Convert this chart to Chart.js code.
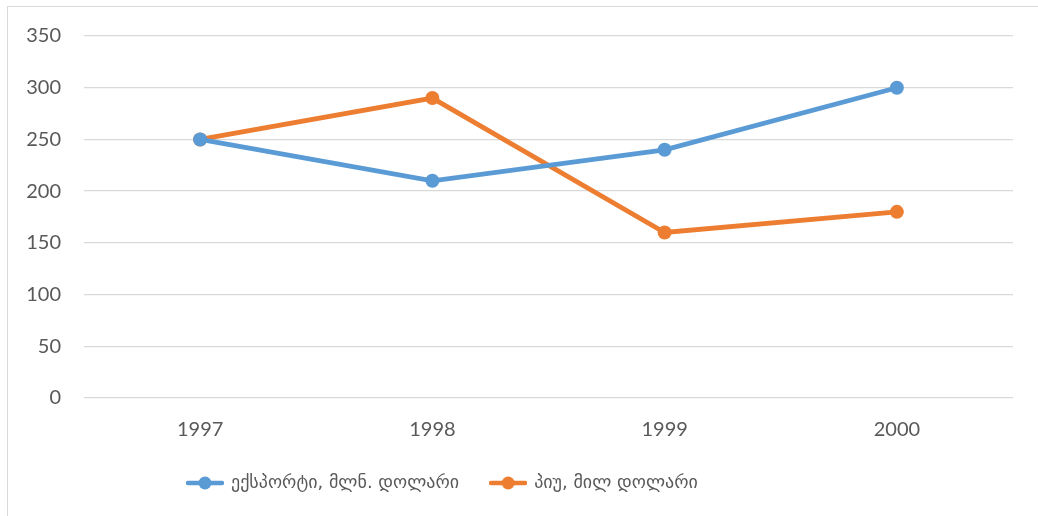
<!DOCTYPE html>
<html>
<head>
<meta charset="utf-8">
<script src="https://cdn.jsdelivr.net/npm/chart.js@4"></script>
<style>
html,body{margin:0;padding:0;background:#fff;}
#wrap{position:absolute;left:0;top:0;width:1038px;height:516px;}
#frame{position:absolute;left:7px;top:6px;width:1040px;height:520px;border-left:1px solid #d9d9d9;border-top:1px solid #d9d9d9;pointer-events:none;}
</style>
</head>
<body>
<div id="wrap"><canvas id="lineChart" width="1038" height="516"></canvas></div>
<div id="frame"></div>
<script>
// data
const years=["1997","1998","1999","2000"];
const exportValues=[250,210,240,300];
const gdpValues=[250,290,160,180];
const seriesNames=["ექსპორტი, მლნ. დოლარი","პიუ, მილ დოლარი"];
const yTicks=[0,50,100,150,200,250,300,350];

const blue="#5b9bd5";
const orange="#ed7d31";

/* legend marker: line with dot */
function legendMarker(color){
  const c=document.createElement("canvas");
  c.width=38;c.height=14;
  const g=c.getContext("2d");
  g.strokeStyle=color;g.lineWidth=4.5;g.lineCap="round";
  g.beginPath();g.moveTo(2,7);g.lineTo(36,7);g.stroke();
  g.fillStyle=color;g.beginPath();g.arc(19,7,6.5,0,Math.PI*2);g.fill();
  return c;
}

const moveLegend={
  id:"moveLegend",
  afterLayout(chart){
    const lg=chart.legend;
    if(lg){lg.left=188-lg.options.labels.padding;}
  }
};

new Chart(document.getElementById("lineChart"),{
  type:"line",
  data:{
    labels:years,
    datasets:[{
      label:seriesNames[0],
      data:exportValues,
      borderColor:blue,
      backgroundColor:blue,
      borderWidth:4.8,
      pointRadius:7,
      pointHoverRadius:7,
      pointBackgroundColor:blue,
      pointBorderWidth:0,
      pointStyle:"circle",
      tension:0
    },{
      label:seriesNames[1],
      data:gdpValues,
      borderColor:orange,
      backgroundColor:orange,
      borderWidth:4.8,
      pointRadius:7,
      pointHoverRadius:7,
      pointBackgroundColor:orange,
      pointBorderWidth:0,
      pointStyle:"circle",
      tension:0
    }]
  },
  options:{
    responsive:false,
    animation:false,
    layout:{padding:{top:36,right:25,left:0,bottom:14}},
    plugins:{
      tooltip:{enabled:false},
      legend:{
        position:"bottom",
        align:"start",
        labels:{
          usePointStyle:true,
          pointStyleWidth:34,
          padding:32,
          color:"#595959",
          font:{family:"'DejaVu Sans', sans-serif",size:18},
          generateLabels(chart){
            return chart.data.datasets.map((ds,i)=>({
              text:ds.label,
              pointStyle:legendMarker(ds.borderColor),
              fillStyle:ds.borderColor,
              strokeStyle:ds.borderColor,
              lineWidth:0,
              fontColor:"#595959",
              hidden:false,
              datasetIndex:i
            }));
          }
        }
      }
    },
    scales:{
      x:{
        offset:true,
        grid:{display:false,drawTicks:false},
        border:{display:false},
        ticks:{color:"#595959",padding:20,font:{family:"Lato",size:20}},
        afterFit(scale){scale.height=44;}
      },
      y:{
        min:0,max:350,
        afterBuildTicks(scale){scale.ticks=yTicks.map(v=>({value:v}));},
        grid:{color:"#d9d9d9",lineWidth:1.3,drawTicks:false},
        border:{display:false},
        ticks:{color:"#595959",padding:23,font:{family:"Lato",size:20}},
        afterFit(scale){scale.width=84;}
      }
    }
  },
  plugins:[moveLegend]
});
</script>
</body>
</html>
